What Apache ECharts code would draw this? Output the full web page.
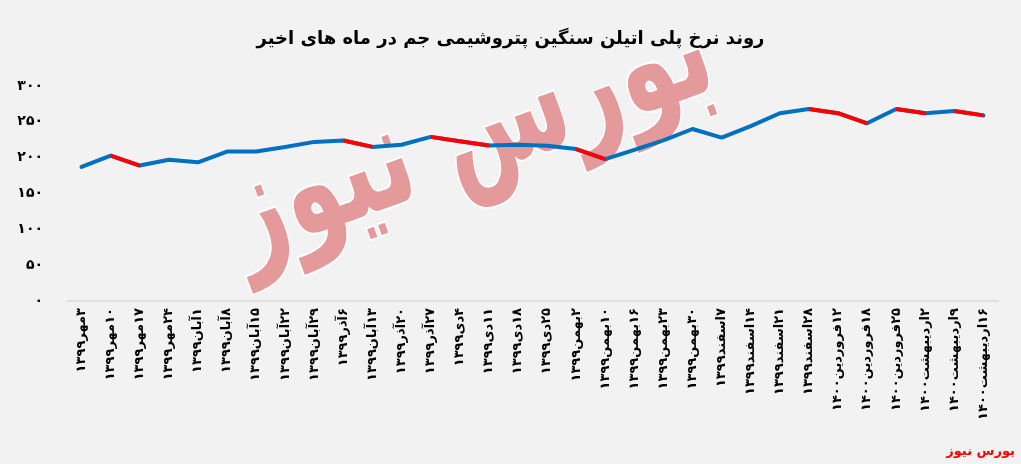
<!DOCTYPE html>
<html>
<head>
<meta charset="utf-8">
<script src="https://cdn.jsdelivr.net/npm/echarts@6/dist/echarts.min.js"></script>
<style>
html,body{margin:0;padding:0;background:#F2F2F2;}
#chart{width:1021px;height:464px;}
</style>
</head>
<body>
<div id="chart"></div>
<script>
const titleText = 'روند نرخ پلی اتیلن سنگین پتروشیمی جم در ماه های اخیر';
const sourceText = 'بورس نیوز';
const categories = [
  '۳مهر۱۳۹۹','۱۰مهر۱۳۹۹','۱۷مهر۱۳۹۹','۲۴مهر۱۳۹۹','۱آبان۱۳۹۹','۸آبان۱۳۹۹','۱۵آبان۱۳۹۹','۲۲آبان۱۳۹۹',
  '۲۹آبان۱۳۹۹','۶آذر۱۳۹۹','۱۳آبان۱۳۹۹','۲۰آذر۱۳۹۹','۲۷آذر۱۳۹۹','۴دی۱۳۹۹','۱۱دی۱۳۹۹','۱۸دی۱۳۹۹',
  '۲۵دی۱۳۹۹','۲بهمن۱۳۹۹','۱۰بهمن۱۳۹۹','۱۶بهمن۱۳۹۹','۲۳بهمن۱۳۹۹','۳۰بهمن۱۳۹۹','۷اسفند۱۳۹۹','۱۴اسفند۱۳۹۹',
  '۲۱اسفند۱۳۹۹','۲۸اسفند۱۳۹۹','۱۲فروردین۱۴۰۰','۱۸فروردین۱۴۰۰','۲۵فروردین۱۴۰۰','۲اردیبهشت۱۴۰۰','۹اردیبهشت۱۴۰۰','۱۶اردیبهشت۱۴۰۰'
];
const prices = [
  187, 203, 189, 197, 193.5, 208.5, 208.5, 215,
  222, 224, 215, 218, 229, 223, 217, 218,
  216.5, 212, 198, 211, 224, 240, 228, 244,
  262, 268, 262, 248, 268, 262, 265, 259
];
// runs of the line (from point index a to b) drawn in red
const redSegments = [[1,2],[9,10],[12,14],[17,18],[25,27],[28,29],[30,31]];
const yTicks = [0, 50, 100, 150, 200, 250, 300];

const BLUE = '#0070C0', RED = '#FF0000';
const rtl = s => '\u202B' + s + '\u202C';
const faDigits = n => String(n).replace(/[0-9]/g, d => '۰۱۲۳۴۵۶۷۸۹'[+d]);

const lineBase = {type: 'line', symbol: 'none', smooth: false, silent: true};
const series = [Object.assign({}, lineBase, {
  data: prices, z: 5,
  lineStyle: {width: 4, color: BLUE, cap: 'round', join: 'round'}
})];
redSegments.forEach(([a, b]) => {
  series.push(Object.assign({}, lineBase, {
    data: prices.map((v, i) => (i >= a && i <= b) ? v : null),
    z: 6,
    lineStyle: {width: 4, color: RED, cap: 'butt', join: 'round'}
  }));
});

const chart = echarts.init(document.getElementById('chart'), null, {renderer: 'canvas'});
chart.setOption({
  backgroundColor: '#F2F2F2',
  animation: false,
  title: {
    text: rtl(titleText),
    left: 'center',
    top: 25,
    textStyle: {fontFamily: 'DejaVu Sans', fontWeight: 'bold', fontSize: 18, color: '#000'}
  },
  grid: {left: 67, right: 23, top: 86, bottom: 163, containLabel: false},
  graphic: [
    {
      type: 'text', z: 0,
      x: 470, y: 138,
      rotation: 0.35,
      scaleX: 0.87, scaleY: 1.3,
      style: {
        text: rtl(sourceText),
        font: 'bold 110px "DejaVu Sans"',
        align: 'center', verticalAlign: 'middle',
        fill: '#E49A9A',
        stroke: '#FFFFFF', lineWidth: 3,
        shadowBlur: 6, shadowColor: 'rgba(0,0,0,0.25)', shadowOffsetX: 2, shadowOffsetY: 2
      },
      silent: true
    },
    {
      type: 'text', right: 6, bottom: 6,
      style: {text: rtl(sourceText), font: 'bold 13px "DejaVu Sans"', fill: '#FF0000'}
    }
  ],
  xAxis: {
    type: 'category',
    data: categories,
    boundaryGap: true,
    axisLine: {show: true, lineStyle: {color: '#D9D9D9', width: 1.5}},
    axisTick: {show: false},
    axisLabel: {
      interval: 0, rotate: 90, margin: 7,
      fontFamily: 'DejaVu Sans', fontWeight: 'bold', fontSize: 13, color: '#000',
      formatter: v => rtl(v)
    },
    splitLine: {show: false}
  },
  yAxis: {
    type: 'value', min: yTicks[0], max: yTicks[yTicks.length - 1], interval: 50,
    axisLine: {show: false}, axisTick: {show: false},
    splitLine: {show: false},
    axisLabel: {
      margin: 24, fontFamily: 'DejaVu Sans', fontWeight: 'bold', fontSize: 14, color: '#000',
      formatter: v => faDigits(v)
    }
  },
  series: series
});
</script>
</body>
</html>
